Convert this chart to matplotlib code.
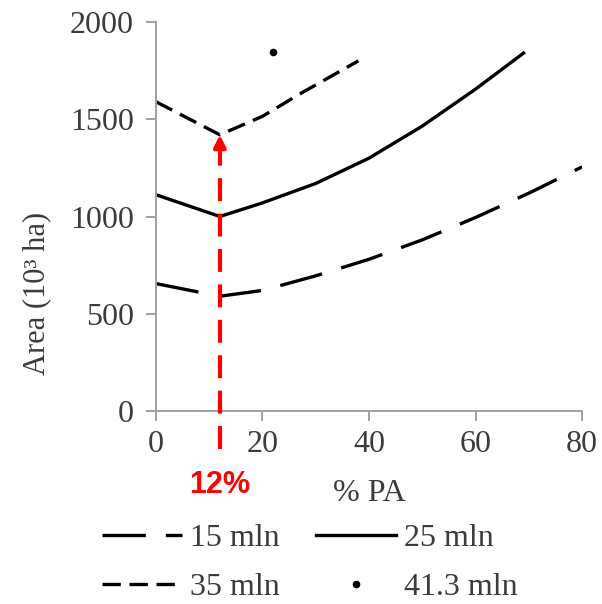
import matplotlib
matplotlib.use("Agg")
import matplotlib.pyplot as plt

# values
pa_15 = [0, 12, 20, 30, 40, 50, 60, 70, 80]
area_15 = [655, 590, 620, 695, 780, 880, 995, 1120, 1255]

pa_25 = [0, 12, 20, 30, 40, 50, 60, 69]
area_25 = [1112, 1000, 1070, 1170, 1300, 1465, 1655, 1840]

pa_35 = [0, 12, 20, 27, 38]
area_35 = [1590, 1420, 1515, 1630, 1800]

pa_41 = [22]
area_41 = [1846]

optimum_pa = 12
optimum_area = 1420

x_ticks = [0, 20, 40, 60, 80]
y_ticks = [0, 500, 1000, 1500, 2000]

plt.rcParams["font.family"] = ["Liberation Serif", "DejaVu Serif"]
fig = plt.figure(figsize=(6.02, 6.04), dpi=100)
ax = fig.add_axes([0.259, 0.3195, 0.708, 0.6441])

lw = 2.4
l15, = ax.plot(pa_15, area_15, color="black", lw=lw, linestyle=(0, (13, 6)), label="15 mln")
l25, = ax.plot(pa_25, area_25, color="black", lw=lw, label="25 mln")
l35, = ax.plot(pa_35, area_35, color="black", lw=lw, linestyle=(0, (5.5, 2.6)), label="35 mln")
l41, = ax.plot(pa_41, area_41, color="black", lw=0, marker="o", ms=4.5, label="41.3 mln")

# red marker of the optimum
ax.plot([optimum_pa, optimum_pa], [-195, optimum_area - 75], color="red", lw=3,
        linestyle=(0, (5.5, 3)), clip_on=False, zorder=5)
ax.annotate("", xy=(optimum_pa, optimum_area), xytext=(optimum_pa, optimum_area - 80),
            arrowprops=dict(arrowstyle="-|>,head_width=0.35,head_length=0.7",
                            color="red", lw=3, shrinkA=0, shrinkB=0), zorder=6)
ax.text(optimum_pa, -0.19, "12%", transform=ax.get_xaxis_transform(), color="red",
        fontsize=22, fontweight="bold", ha="center", va="center",
        family=["Liberation Sans", "DejaVu Sans"])

ax.set_xlim(0, 80)
ax.set_ylim(0, 2000)
ax.set_xticks(x_ticks)
ax.set_yticks(y_ticks)
for s in ["top", "right"]:
    ax.spines[s].set_visible(False)
for s in ["left", "bottom"]:
    ax.spines[s].set_color("#a0a0a0")
    ax.spines[s].set_linewidth(1.4)
ax.tick_params(axis="both", direction="out", length=7, width=1.4, color="#a0a0a0",
               labelsize=23, labelcolor="#3c3c3c")
ax.tick_params(axis="y", pad=9)
ax.tick_params(axis="x", pad=7)

ax.set_xlabel("% PA", fontsize=23, color="#3c3c3c", va="center")
ax.xaxis.set_label_coords(0.5, -0.213)
ax.set_ylabel("Area (10³ ha)", fontsize=22, color="#3c3c3c", va="center")
ax.yaxis.set_label_coords(-0.279, 0.303)

fig.legend([l15, l35, l25, l41], ["15 mln", "35 mln", "25 mln", "41.3 mln"],
           ncol=2, loc="center left", bbox_to_anchor=(0.1694, 0.068), frameon=False,
           borderpad=0, borderaxespad=0,
           fontsize=23, handlelength=2.5, handletextpad=0.25, columnspacing=1.15,
           labelspacing=0.6, numpoints=1, labelcolor="#3c3c3c")

fig.savefig("out.png", dpi=100)
